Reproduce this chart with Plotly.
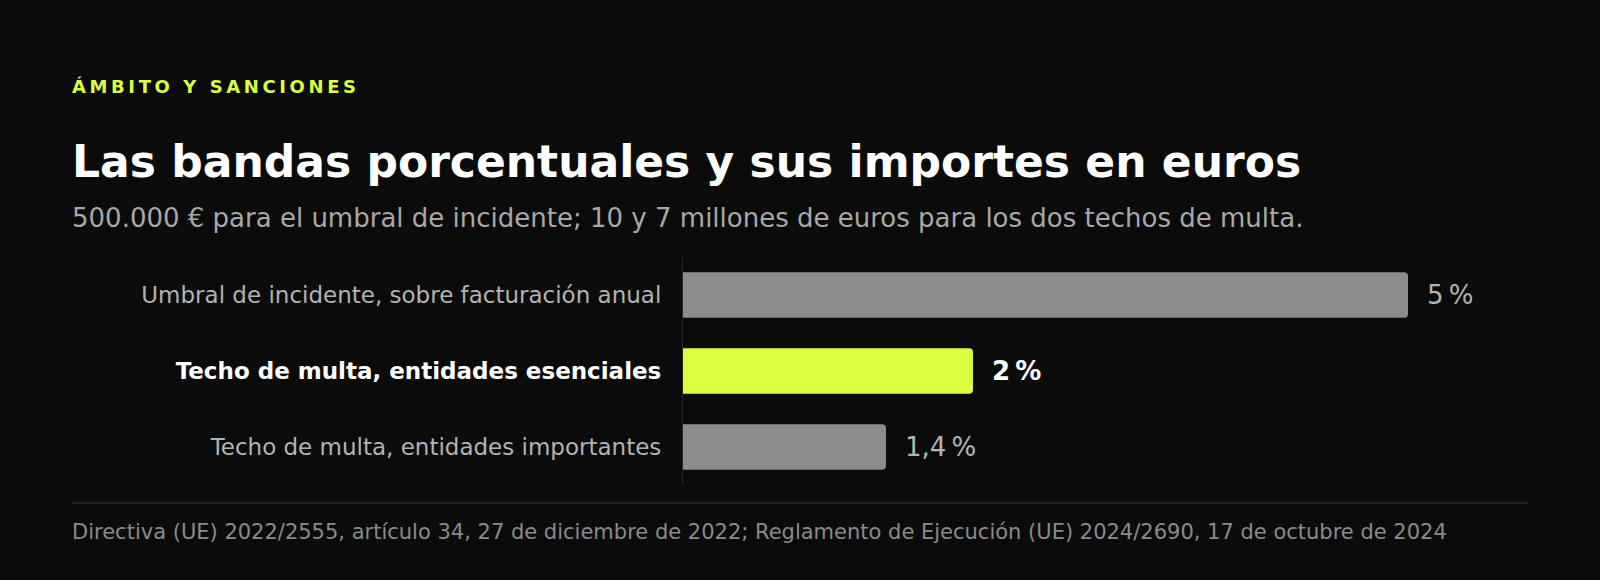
import plotly.graph_objects as go

# Data
categories = [
    "Umbral de incidente, sobre facturación anual",
    "Techo de multa, entidades esenciales",
    "Techo de multa, entidades importantes",
]
values = [5, 2, 1.4]
value_labels = ["5\u202f%", "2\u202f%", "1,4\u202f%"]
highlight = [False, True, False]

kicker = "ÁMBITO Y SANCIONES"
title = "Las bandas porcentuales y sus importes en euros"
subtitle = "500.000 € para el umbral de incidente; 10 y 7 millones de euros para los dos techos de multa."
source = ("Directiva (UE) 2022/2555, artículo 34, 27 de diciembre de 2022; "
          "Reglamento de Ejecución (UE) 2024/2690, 17 de octubre de 2024")

BG = "#0b0b0b"
LIME = "#d9ff3f"
GREY_BAR = "#8c8c8c"
FONT = "DejaVu Sans"

bar_colors = [LIME if h else GREY_BAR for h in highlight]

tick_text = []
for cat, h in zip(categories, highlight):
    if h:
        tick_text.append('<b><span style="color:#ffffff">%s</span></b>' % cat)
    else:
        tick_text.append('<span style="color:#b3b3b3">%s</span>' % cat)

fig = go.Figure()
fig.add_trace(go.Bar(
    x=values,
    y=categories,
    orientation="h",
    marker_color=bar_colors,
    marker_line_width=0,
    hoverinfo="skip",
))

# value labels at the end of each bar
for cat, v, lab, h in zip(categories, values, value_labels, highlight):
    fig.add_annotation(
        x=v, y=cat, xref="x", yref="y",
        text="<b>%s</b>" % lab if h else lab,
        showarrow=False, xanchor="left", yanchor="middle", xshift=17,
        font=dict(family=FONT, size=26, color="#ffffff" if h else "#b3b3b3"),
    )

# header and footer texts
spaced_kicker = "\u2009".join(list(kicker))
fig.add_annotation(x=0, y=1.746, xref="paper", yref="paper", text="<b>%s</b>" % spaced_kicker,
                   showarrow=False, xanchor="left", yanchor="middle", xshift=-2,
                   font=dict(family=FONT, size=18, color=LIME))
fig.add_annotation(x=0, y=1.417, xref="paper", yref="paper", text="<b>%s</b>" % title,
                   showarrow=False, xanchor="left", yanchor="middle", xshift=-2,
                   font=dict(family=FONT, size=44, color="#ffffff"))
fig.add_annotation(x=0, y=1.172, xref="paper", yref="paper", text=subtitle,
                   showarrow=False, xanchor="left", yanchor="middle", xshift=-2,
                   font=dict(family=FONT, size=26, color="#a8a8a8"))
fig.add_annotation(x=0, y=-0.205, xref="paper", yref="paper", text=source,
                   showarrow=False, xanchor="left", yanchor="middle", xshift=-2,
                   font=dict(family=FONT, size=21, color="#8a8a8a"))

# separator line above the source
fig.add_shape(type="line", xref="paper", yref="paper", x0=0, x1=1, y0=-0.079, y1=-0.079,
              line=dict(color="#222222", width=2))

fig.update_layout(
    width=1600, height=580,
    paper_bgcolor=BG, plot_bgcolor=BG,
    margin=dict(l=72, r=72, t=257, b=95),
    showlegend=False,
    bargap=0.4,
    barcornerradius=4,
    font=dict(family=FONT, size=23, color="#b3b3b3"),
    xaxis=dict(domain=[0.4196, 0.9176], range=[0, 5], visible=False, fixedrange=True),
    yaxis=dict(
        categoryorder="array", categoryarray=categories, autorange="reversed",
        tickvals=categories, ticktext=tick_text,
        showgrid=False, zeroline=False,
        showline=True, linecolor="#262626", linewidth=1,
        ticks="", ticklabelstandoff=16,
        tickfont=dict(family=FONT, size=23),
        fixedrange=True,
    ),
)

fig.write_html("out.html", config={"displayModeBar": False},
               post_script="document.body.style.margin='0px';")
